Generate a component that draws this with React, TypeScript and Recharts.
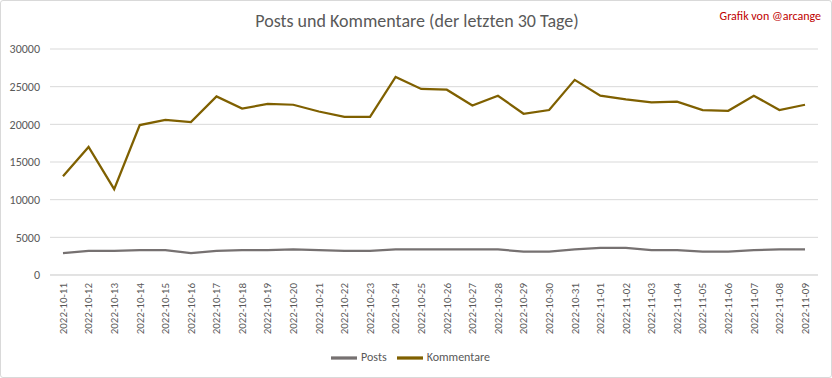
import { LineChart, Line, XAxis, YAxis, CartesianGrid, Legend } from 'recharts'

const dates = [
  '2022-10-11', '2022-10-12', '2022-10-13', '2022-10-14', '2022-10-15',
  '2022-10-16', '2022-10-17', '2022-10-18', '2022-10-19', '2022-10-20',
  '2022-10-21', '2022-10-22', '2022-10-23', '2022-10-24', '2022-10-25',
  '2022-10-26', '2022-10-27', '2022-10-28', '2022-10-29', '2022-10-30',
  '2022-10-31', '2022-11-01', '2022-11-02', '2022-11-03', '2022-11-04',
  '2022-11-05', '2022-11-06', '2022-11-07', '2022-11-08', '2022-11-09',
]

const posts = [
  2900, 3200, 3200, 3300, 3300, 2900, 3200, 3300, 3300, 3400,
  3300, 3200, 3200, 3400, 3400, 3400, 3400, 3400, 3100, 3100,
  3400, 3600, 3600, 3300, 3300, 3100, 3100, 3300, 3400, 3400,
]

const kommentare = [
  13100, 17000, 11400, 19900, 20600, 20300, 23700, 22100, 22700, 22600,
  21700, 21000, 21000, 26300, 24700, 24600, 22500, 23800, 21400, 21900,
  25900, 23800, 23300, 22900, 23000, 21900, 21800, 23800, 21900, 22600,
]

const yTicks = [0, 5000, 10000, 15000, 20000, 25000, 30000]

const data = dates.map((d, i) => ({ date: d, Posts: posts[i], Kommentare: kommentare[i] }))

const FONT = "Carlito, 'Liberation Sans Narrow', 'Liberation Sans', sans-serif"
const TXT = '#595959'
const seriesOrder = ['Posts', 'Kommentare']

export default function App() {
  return (
    <div
      style={{
        position:   'relative',
        width:      832,
        height:     378,
        boxSizing:  'border-box',
        border:     '1px solid #d9d9d9',
        borderRadius: 3,
        background: '#fff',
        fontFamily: FONT,
      }}
    >
      <style>{'body{margin:0}'}</style>

      <div
        style={{
          position:  'absolute',
          top:       9,
          left:      0,
          width:     832,
          textAlign: 'center',
          fontSize:  18,
          color:     TXT,
        }}
      >
        Posts und Kommentare (der letzten 30 Tage)
      </div>
      <div
        style={{
          position: 'absolute',
          top:      8,
          right:    10,
          fontSize: 12,
          color:    '#c00000',
        }}
      >
        Grafik von @arcange
      </div>

      <LineChart
        width={830}
        height={376}
        data={data}
        margin={{ top: 48, right: 13, left: 0, bottom: 8 }}
        style={{ fontFamily: FONT }}
      >
        <CartesianGrid stroke="#d9d9d9" vertical={false} />
        <XAxis
          dataKey="date"
          interval={0}
          height={70}
          angle={-90}
          textAnchor="end"
          padding={{ left: 13, right: 13 }}
          tick={{ fill: TXT, fontSize: 11 }}
          tickLine={false}
          axisLine={{ stroke: '#d9d9d9' }}
          tickSize={0}
          tickMargin={8}
          dx={-4}
        />
        <YAxis
          domain={[0, 30000]}
          ticks={yTicks}
          width={49}
          tick={{ fill: TXT, fontSize: 12 }}
          tickLine={false}
          axisLine={false}
          tickSize={0}
          tickMargin={10}
        />
        <Legend
          verticalAlign="bottom"
          height={24}
          iconType="plainline"
          iconSize={26}
          itemSorter={(item: any) => seriesOrder.indexOf(item.dataKey)}
          wrapperStyle={{ fontSize: 12, color: TXT, paddingLeft: 6 }}
          formatter={(v: string) => <span style={{ color: TXT }}>{v}</span>}
        />
        <Line
          dataKey="Posts"
          stroke="#767171"
          strokeWidth={2.25}
          dot={false}
          isAnimationActive={false}
        />
        <Line
          dataKey="Kommentare"
          stroke="#7f6000"
          strokeWidth={2.25}
          dot={false}
          isAnimationActive={false}
        />
      </LineChart>
    </div>
  )
}
